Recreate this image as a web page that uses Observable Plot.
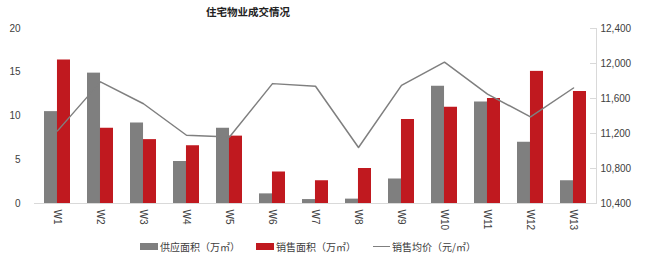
<!DOCTYPE html>
<html><head><meta charset="utf-8">
<script src="https://cdn.jsdelivr.net/npm/d3@7"></script>
<script src="https://cdn.jsdelivr.net/npm/@observablehq/plot@0.6"></script>
<style>
body{margin:0;background:#fff;font-family:"Liberation Sans","Noto Sans CJK SC",sans-serif;}
#wrap{position:relative;width:646px;height:259px;overflow:hidden;}
#title{position:absolute;left:0;top:4px;width:496px;text-align:center;font-size:10.5px;font-weight:bold;color:#222;font-family:"Noto Sans CJK SC",sans-serif;}
#chart{position:absolute;left:0;top:20px;}
.lg{position:absolute;top:239px;font-size:10px;color:#404040;font-family:"Noto Sans CJK SC",sans-serif;display:flex;align-items:center;height:14px;}
.sw{display:inline-block;width:18px;height:7px;margin-right:2px;}
.ln{display:inline-block;width:17px;height:0;border-top:1.5px solid #7f7f7f;margin-right:2px;}
</style>
</head><body>
<div id="wrap">
  <div id="title">住宅物业成交情况</div>
  <div id="chart"></div>
  <div class="lg" style="left:140px"><span class="sw" style="background:#7f7f7f"></span>供应面积（万㎡）</div>
  <div class="lg" style="left:256px"><span class="sw" style="background:#c0191f"></span>销售面积（万㎡）</div>
  <div class="lg" style="left:373px"><span class="ln"></span>销售均价（元/㎡）</div>
</div>
<script>
const weeks = ["W1","W2","W3","W4","W5","W6","W7","W8","W9","W10","W11","W12","W13"];
const supply = [10.5,14.9,9.2,4.8,8.6,1.1,0.45,0.5,2.8,13.4,11.6,7.0,2.6];
const sales = [16.4,8.6,7.3,6.6,7.7,3.6,2.6,4.0,9.6,11.0,12.0,15.1,12.8];
const price = [11230,11790,11540,11180,11160,11770,11740,11040,11750,12015,11650,11390,11720];
const leftTicks = [0,5,10,15,20];
const rightTicks = [10400,10800,11200,11600,12000,12400];

const data = weeks.map((w,i)=>({week:w, supply:supply[i], sales:sales[i], price:price[i]}));
const W = 646, ML = 34, MR = 50;
const step = (W-ML-MR)/weeks.length;
const half = step*0.6/2;
const toLeft = d3.scaleLinear([10400,12400],[0,20]);
const fmt = d3.format(",");

const chart = Plot.plot({
  width: W, height: 219,
  marginTop: 8, marginBottom: 36, marginLeft: ML, marginRight: MR,
  style: {fontFamily: '"Liberation Sans","Noto Sans CJK SC",sans-serif', fontSize: "10px", color: "#404040", background: "transparent"},
  x: {domain: weeks, paddingInner: 0.4, paddingOuter: 0.2, label: null, tickSize: 0, tickRotate: 90, tickPadding: 6},
  y: {domain: [0,20], label: null, axis: null},
  marks: [
    Plot.axisY(leftTicks, {anchor: "left", tickSize: 0, tickPadding: 14, label: null}),
    Plot.axisY(rightTicks.map(d=>toLeft(d)), {anchor: "right", tickSize: 0, tickPadding: 4, label: null, tickFormat: d => fmt(Math.round(toLeft.invert(d)))}),
    Plot.frame({anchor: "right", stroke: "#d9d9d9"}),
    Plot.tickY(rightTicks.map(d=>toLeft(d)), {y: d=>d, stroke: "#d9d9d9", insetLeft: (W-ML-MR)-6}),
    Plot.barY(data, {x: "week", y: "supply", fill: "#7f7f7f", insetRight: half}),
    Plot.barY(data, {x: "week", y: "sales", fill: "#c0191f", insetLeft: half}),
    Plot.ruleY([0], {stroke: "#d9d9d9"}),
    Plot.lineY(data, {x: "week", y: d=>toLeft(d.price), stroke: "#7f7f7f", strokeWidth: 1.5})
  ]
});
document.getElementById("chart").appendChild(chart);
</script>
</body></html>
